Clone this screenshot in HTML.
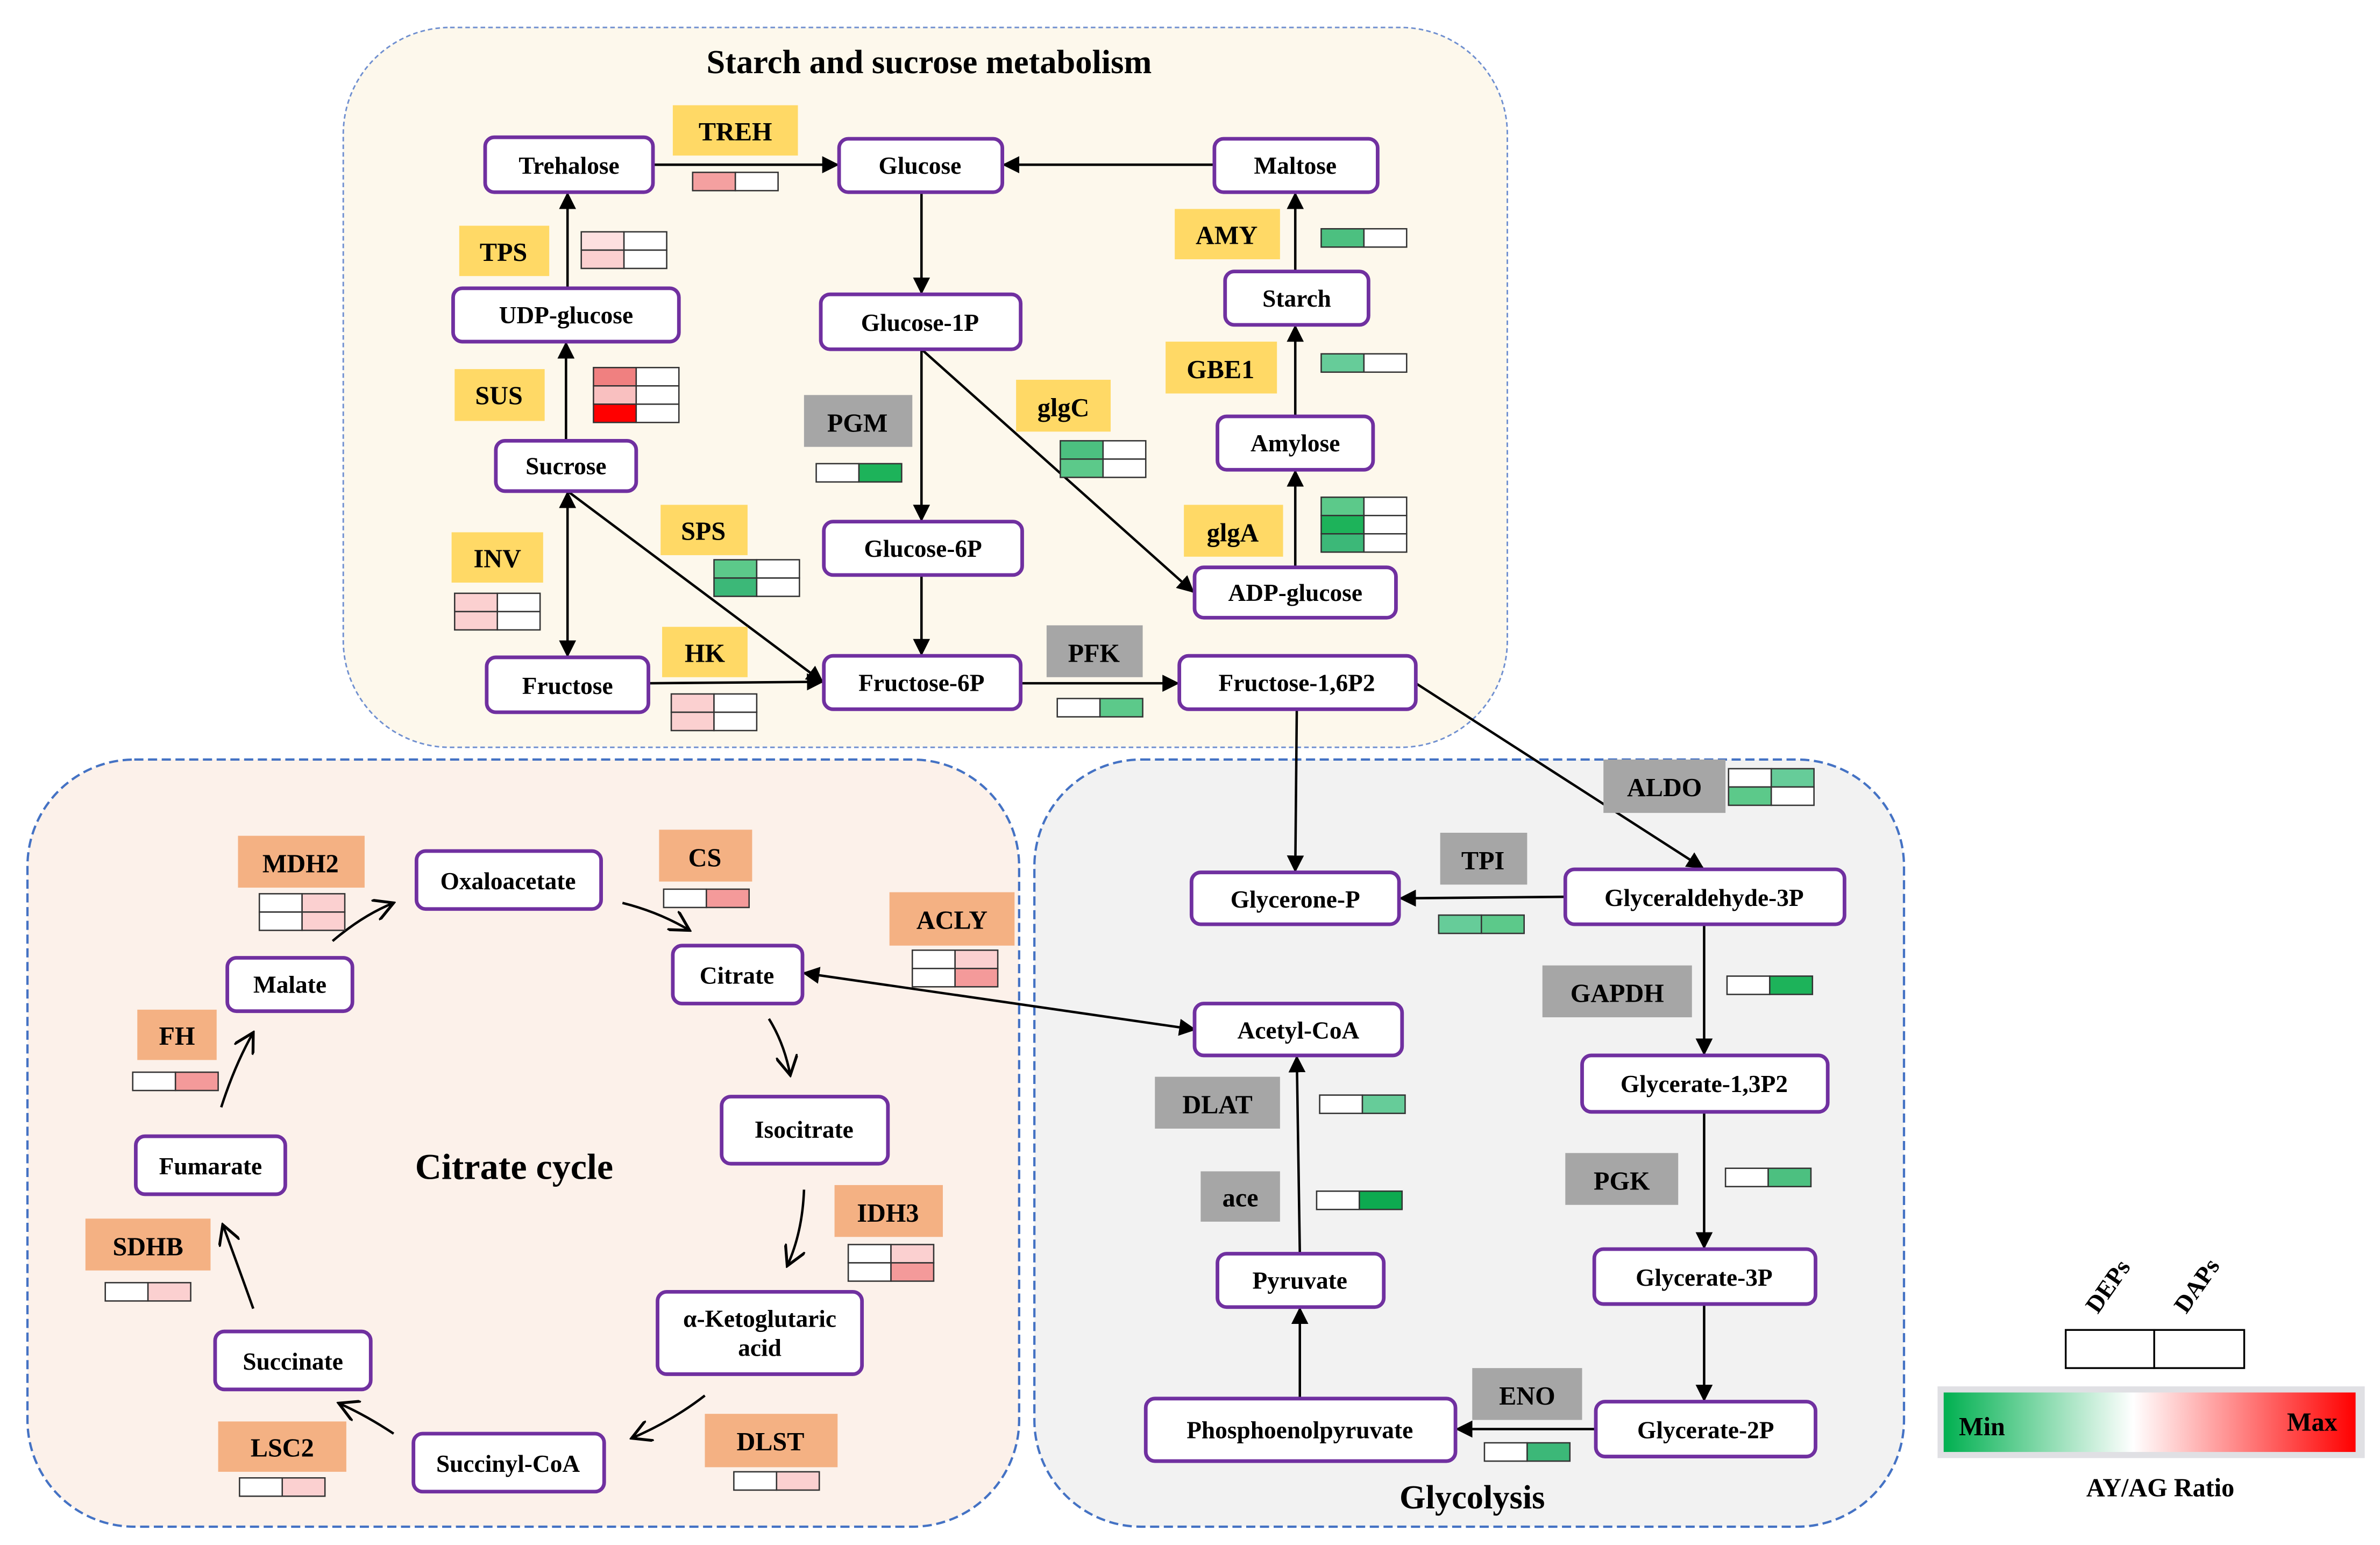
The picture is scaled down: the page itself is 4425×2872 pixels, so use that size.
<!DOCTYPE html>
<html><head><meta charset="utf-8"><style>
html,body{margin:0;padding:0;background:#fff;}
svg{display:block;}
text{font-family:"Liberation Serif",serif;font-weight:bold;fill:#000;}
.n{fill:#fff;stroke:#7030a0;stroke-width:2.4;}
.y{fill:#ffd966;}.g{fill:#a6a6a6;}.o{fill:#f4b183;}
.c{stroke:#333;stroke-width:0.9;}
.a{stroke:#000;stroke-width:1.6;fill:none;}
</style></head><body>
<svg width="4425" height="2872" viewBox="0 0 1560 1013" preserveAspectRatio="none" xmlns="http://www.w3.org/2000/svg">
<defs>
<marker id="ar" viewBox="0 0 10 10" refX="9" refY="5" markerWidth="7" markerHeight="7" orient="auto-start-reverse"><path d="M0,0 L10,5 L0,10 z" fill="#000"/></marker>
<marker id="op" viewBox="0 0 10 10" refX="9" refY="5" markerWidth="9" markerHeight="9" orient="auto"><path d="M0,0 L9,5 L0,10" fill="none" stroke="#000" stroke-width="1.3"/></marker>
<linearGradient id="gr" x1="0" x2="1"><stop offset="0" stop-color="#00b050"/><stop offset="0.46" stop-color="#fff"/><stop offset="1" stop-color="#ff0000"/></linearGradient>
</defs>
<!-- regions -->
<rect x="225" y="18" width="763" height="472" rx="70" fill="#fdf8ec" stroke="#6f8fd0" stroke-width="1" stroke-dasharray="3,2"/>
<rect x="18" y="498" width="650" height="503" rx="70" fill="#fcf1ea" stroke="#4472c4" stroke-width="1.5" stroke-dasharray="6,3"/>
<rect x="678" y="498" width="570" height="503" rx="70" fill="#f2f2f2" stroke="#4472c4" stroke-width="1.5" stroke-dasharray="6,3"/>
<text x="609" y="48" font-size="22" text-anchor="middle">Starch and sucrose metabolism</text>
<text x="337" y="773" font-size="24" text-anchor="middle">Citrate cycle</text>
<text x="965" y="989" font-size="22" text-anchor="middle">Glycolysis</text>

<!-- arrows -->
<g class="a" marker-end="url(#ar)">
<line x1="428" y1="108" x2="549" y2="108"/>
<line x1="796" y1="108" x2="658" y2="108"/>
<line x1="604" y1="126" x2="604" y2="192"/>
<line x1="604" y1="229" x2="604" y2="341"/>
<line x1="604" y1="229" x2="782" y2="388"/>
<line x1="604" y1="377" x2="604" y2="429"/>
<line x1="372" y1="189" x2="372" y2="127"/>
<line x1="371" y1="289" x2="371" y2="225"/>
<line x1="372" y1="323" x2="372" y2="430" marker-start="url(#ar)"/>
<line x1="372" y1="322" x2="539" y2="447"/>
<line x1="425" y1="448" x2="539" y2="447"/>
<line x1="669" y1="448" x2="772" y2="448"/>
<line x1="849" y1="273" x2="849" y2="214"/>
<line x1="849" y1="178" x2="849" y2="127"/>
<line x1="849" y1="372" x2="849" y2="309"/>
<line x1="850" y1="465" x2="849" y2="571"/>
<line x1="928" y1="448" x2="1116" y2="569"/>
<line x1="1026" y1="588" x2="918" y2="589"/>
<line x1="1117" y1="606" x2="1117" y2="691"/>
<line x1="1117" y1="729" x2="1117" y2="818"/>
<line x1="1117" y1="855" x2="1117" y2="918"/>
<line x1="1046" y1="937" x2="955" y2="937"/>
<line x1="852" y1="917" x2="852" y2="858"/>
<line x1="852" y1="822" x2="850" y2="693"/>
<line x1="783" y1="675" x2="527" y2="638" marker-start="url(#ar)"/>
</g>
<g class="a" marker-end="url(#op)">
<path d="M218,617 Q238,600 258,592"/>
<path d="M408,592 Q432,598 452,610"/>
<path d="M504,668 Q514,684 518,705"/>
<path d="M527,780 Q526,808 516,830"/>
<path d="M462,915 Q440,932 414,943"/>
<path d="M258,940 Q240,928 222,920"/>
<path d="M166,858 Q156,830 146,803"/>
<path d="M145,726 Q154,698 166,677"/>
</g>

<!-- nodes -->
<g font-size="16" text-anchor="middle">
<rect class="n" x="318" y="90" width="110" height="36" rx="6"/><text x="373" y="114">Trehalose</text>
<rect class="n" x="550" y="91" width="107" height="35" rx="6"/><text x="603" y="114">Glucose</text>
<rect class="n" x="796" y="91" width="107" height="35" rx="6"/><text x="849" y="114">Maltose</text>
<rect class="n" x="297" y="189" width="148" height="35" rx="6"/><text x="371" y="212">UDP-glucose</text>
<rect class="n" x="538" y="193" width="131" height="36" rx="6"/><text x="603" y="217">Glucose-1P</text>
<rect class="n" x="803" y="178" width="94" height="35" rx="6"/><text x="850" y="201">Starch</text>
<rect class="n" x="798" y="273" width="102" height="35" rx="6"/><text x="849" y="296">Amylose</text>
<rect class="n" x="325" y="289" width="92" height="33" rx="6"/><text x="371" y="311">Sucrose</text>
<rect class="n" x="540" y="342" width="130" height="35" rx="6"/><text x="605" y="365">Glucose-6P</text>
<rect class="n" x="783" y="372" width="132" height="33" rx="6"/><text x="849" y="394">ADP-glucose</text>
<rect class="n" x="319" y="431" width="106" height="36" rx="6"/><text x="372" y="455">Fructose</text>
<rect class="n" x="540" y="430" width="129" height="35" rx="6"/><text x="604" y="453">Fructose-6P</text>
<rect class="n" x="773" y="430" width="155" height="35" rx="6"/><text x="850" y="453">Fructose-1,6P2</text>
<rect class="n" x="273" y="558" width="121" height="38" rx="6"/><text x="333" y="583">Oxaloacetate</text>
<rect class="n" x="441" y="620" width="85" height="38" rx="6"/><text x="483" y="645">Citrate</text>
<rect class="n" x="149" y="628" width="82" height="35" rx="6"/><text x="190" y="651">Malate</text>
<rect class="n" x="473" y="719" width="109" height="44" rx="6"/><text x="527" y="746">Isocitrate</text>
<rect class="n" x="89" y="745" width="98" height="38" rx="6"/><text x="138" y="770">Fumarate</text>
<rect class="n" x="431" y="847" width="134" height="54" rx="6"/><text x="498" y="870">α-Ketoglutaric</text><text x="498" y="889">acid</text>
<rect class="n" x="141" y="873" width="102" height="38" rx="6"/><text x="192" y="898">Succinate</text>
<rect class="n" x="271" y="940" width="125" height="38" rx="6"/><text x="333" y="965">Succinyl-CoA</text>
<rect class="n" x="781" y="572" width="136" height="34" rx="6"/><text x="849" y="595">Glycerone-P</text>
<rect class="n" x="1026" y="570" width="183" height="36" rx="6"/><text x="1117" y="594">Glyceraldehyde-3P</text>
<rect class="n" x="783" y="658" width="136" height="34" rx="6"/><text x="851" y="681">Acetyl-CoA</text>
<rect class="n" x="1037" y="692" width="161" height="37" rx="6"/><text x="1117" y="716">Glycerate-1,3P2</text>
<rect class="n" x="798" y="822" width="109" height="35" rx="6"/><text x="852" y="845">Pyruvate</text>
<rect class="n" x="1045" y="819" width="145" height="36" rx="6"/><text x="1117" y="843">Glycerate-3P</text>
<rect class="n" x="751" y="917" width="203" height="41" rx="6"/><text x="852" y="943">Phosphoenolpyruvate</text>
<rect class="n" x="1046" y="919" width="144" height="36" rx="6"/><text x="1118" y="943">Glycerate-2P</text>
</g>

<!-- enzyme labels -->
<g font-size="17" text-anchor="middle">
<rect class="y" x="441" y="69" width="82" height="33"/><text x="482" y="92">TREH</text>
<rect class="y" x="301" y="148" width="59" height="33"/><text x="330" y="171">TPS</text>
<rect class="y" x="298" y="242" width="59" height="34"/><text x="327" y="265">SUS</text>
<rect class="y" x="296" y="349" width="60" height="33"/><text x="326" y="372">INV</text>
<rect class="y" x="433" y="331" width="57" height="33"/><text x="461" y="354">SPS</text>
<rect class="y" x="434" y="411" width="56" height="33"/><text x="462" y="434">HK</text>
<rect class="g" x="527" y="259" width="71" height="34"/><text x="562" y="283">PGM</text>
<rect class="y" x="666" y="249" width="62" height="34"/><text x="697" y="273">glgC</text>
<rect class="g" x="686" y="410" width="63" height="34"/><text x="717" y="434">PFK</text>
<rect class="y" x="770" y="137" width="69" height="33"/><text x="804" y="160">AMY</text>
<rect class="y" x="764" y="224" width="73" height="34"/><text x="800" y="248">GBE1</text>
<rect class="y" x="776" y="331" width="65" height="34"/><text x="808" y="355">glgA</text>
<rect class="g" x="1051" y="498" width="80" height="35"/><text x="1091" y="522">ALDO</text>
<rect class="g" x="944" y="546" width="57" height="34"/><text x="972" y="570">TPI</text>
<rect class="g" x="1011" y="633" width="98" height="34"/><text x="1060" y="657">GAPDH</text>
<rect class="g" x="757" y="706" width="82" height="34"/><text x="798" y="730">DLAT</text>
<rect class="g" x="787" y="768" width="52" height="33"/><text x="813" y="791">ace</text>
<rect class="g" x="1026" y="756" width="74" height="34"/><text x="1063" y="780">PGK</text>
<rect class="g" x="965" y="897" width="72" height="34"/><text x="1001" y="921">ENO</text>
<rect class="o" x="156" y="548" width="83" height="34"/><text x="197" y="572">MDH2</text>
<rect class="o" x="432" y="544" width="61" height="34"/><text x="462" y="568">CS</text>
<rect class="o" x="583" y="585" width="82" height="35"/><text x="624" y="609">ACLY</text>
<rect class="o" x="90" y="662" width="52" height="33"/><text x="116" y="685">FH</text>
<rect class="o" x="56" y="799" width="82" height="34"/><text x="97" y="823">SDHB</text>
<rect class="o" x="547" y="777" width="71" height="34"/><text x="582" y="801">IDH3</text>
<rect class="o" x="143" y="932" width="84" height="33"/><text x="185" y="955">LSC2</text>
<rect class="o" x="462" y="927" width="87" height="35"/><text x="505" y="951">DLST</text>
</g>

<!-- heat cells -->
<g class="c">
<rect x="454" y="113" width="28" height="12" fill="#f4a0a0"/><rect x="482" y="113" width="28" height="12" fill="#fff"/>
<rect x="381" y="152" width="28" height="12" fill="#fde0e0"/><rect x="409" y="152" width="28" height="12" fill="#fff"/>
<rect x="381" y="164" width="28" height="12" fill="#fbd0d0"/><rect x="409" y="164" width="28" height="12" fill="#fff"/>
<rect x="389" y="241" width="28" height="12" fill="#f08080"/><rect x="417" y="241" width="28" height="12" fill="#fff"/>
<rect x="389" y="253" width="28" height="12" fill="#f9c0c0"/><rect x="417" y="253" width="28" height="12" fill="#fff"/>
<rect x="389" y="265" width="28" height="12" fill="#ff0000"/><rect x="417" y="265" width="28" height="12" fill="#fff"/>
<rect x="298" y="389" width="28" height="12" fill="#fbd0d0"/><rect x="326" y="389" width="28" height="12" fill="#fff"/>
<rect x="298" y="401" width="28" height="12" fill="#fbd0d0"/><rect x="326" y="401" width="28" height="12" fill="#fff"/>
<rect x="468" y="367" width="28" height="12" fill="#5cc98a"/><rect x="496" y="367" width="28" height="12" fill="#fff"/>
<rect x="468" y="379" width="28" height="12" fill="#3cb878"/><rect x="496" y="379" width="28" height="12" fill="#fff"/>
<rect x="440" y="455" width="28" height="12" fill="#fbd0d0"/><rect x="468" y="455" width="28" height="12" fill="#fff"/>
<rect x="440" y="467" width="28" height="12" fill="#fbd0d0"/><rect x="468" y="467" width="28" height="12" fill="#fff"/>
<rect x="535" y="304" width="28" height="12" fill="#fff"/><rect x="563" y="304" width="28" height="12" fill="#1db35a"/>
<rect x="695" y="289" width="28" height="12" fill="#4cc080"/><rect x="723" y="289" width="28" height="12" fill="#fff"/>
<rect x="695" y="301" width="28" height="12" fill="#5cc98a"/><rect x="723" y="301" width="28" height="12" fill="#fff"/>
<rect x="693" y="458" width="28" height="12" fill="#fff"/><rect x="721" y="458" width="28" height="12" fill="#5cc98a"/>
<rect x="866" y="150" width="28" height="12" fill="#4cc080"/><rect x="894" y="150" width="28" height="12" fill="#fff"/>
<rect x="866" y="232" width="28" height="12" fill="#66cc99"/><rect x="894" y="232" width="28" height="12" fill="#fff"/>
<rect x="866" y="326" width="28" height="12" fill="#5cc98a"/><rect x="894" y="326" width="28" height="12" fill="#fff"/>
<rect x="866" y="338" width="28" height="12" fill="#1db35a"/><rect x="894" y="338" width="28" height="12" fill="#fff"/>
<rect x="866" y="350" width="28" height="12" fill="#3cb878"/><rect x="894" y="350" width="28" height="12" fill="#fff"/>
<rect x="1133" y="504" width="28" height="12" fill="#fff"/><rect x="1161" y="504" width="28" height="12" fill="#66cc99"/>
<rect x="1133" y="516" width="28" height="12" fill="#5cc98a"/><rect x="1161" y="516" width="28" height="12" fill="#fff"/>
<rect x="943" y="600" width="28" height="12" fill="#66cc99"/><rect x="971" y="600" width="28" height="12" fill="#5cc98a"/>
<rect x="1132" y="640" width="28" height="12" fill="#fff"/><rect x="1160" y="640" width="28" height="12" fill="#1db35a"/>
<rect x="865" y="718" width="28" height="12" fill="#fff"/><rect x="893" y="718" width="28" height="12" fill="#66cc99"/>
<rect x="863" y="781" width="28" height="12" fill="#fff"/><rect x="891" y="781" width="28" height="12" fill="#0daa50"/>
<rect x="1131" y="766" width="28" height="12" fill="#fff"/><rect x="1159" y="766" width="28" height="12" fill="#4cc080"/>
<rect x="973" y="946" width="28" height="12" fill="#fff"/><rect x="1001" y="946" width="28" height="12" fill="#3cb878"/>
<rect x="170" y="586" width="28" height="12" fill="#fff"/><rect x="198" y="586" width="28" height="12" fill="#fbd0d0"/>
<rect x="170" y="598" width="28" height="12" fill="#fff"/><rect x="198" y="598" width="28" height="12" fill="#fbd0d0"/>
<rect x="435" y="583" width="28" height="12" fill="#fff"/><rect x="463" y="583" width="28" height="12" fill="#f49a9a"/>
<rect x="598" y="623" width="28" height="12" fill="#fff"/><rect x="626" y="623" width="28" height="12" fill="#fbd0d0"/>
<rect x="598" y="635" width="28" height="12" fill="#fff"/><rect x="626" y="635" width="28" height="12" fill="#f49a9a"/>
<rect x="87" y="703" width="28" height="12" fill="#fff"/><rect x="115" y="703" width="28" height="12" fill="#f49a9a"/>
<rect x="69" y="841" width="28" height="12" fill="#fff"/><rect x="97" y="841" width="28" height="12" fill="#fbd0d0"/>
<rect x="556" y="816" width="28" height="12" fill="#fff"/><rect x="584" y="816" width="28" height="12" fill="#fbd0d0"/>
<rect x="556" y="828" width="28" height="12" fill="#fff"/><rect x="584" y="828" width="28" height="12" fill="#f49a9a"/>
<rect x="157" y="969" width="28" height="12" fill="#fff"/><rect x="185" y="969" width="28" height="12" fill="#fbd0d0"/>
<rect x="481" y="965" width="28" height="12" fill="#fff"/><rect x="509" y="965" width="28" height="12" fill="#fbd0d0"/>
</g>

<!-- legend -->
<rect x="1354" y="872" width="58" height="25" fill="#fff" stroke="#000" stroke-width="1.2"/>
<rect x="1412" y="872" width="59" height="25" fill="#fff" stroke="#000" stroke-width="1.2"/>
<text font-size="16" transform="translate(1375,862) rotate(-55)">DEPs</text>
<text font-size="16" transform="translate(1433,862) rotate(-55)">DAPs</text>
<rect x="1270" y="909" width="280" height="47" fill="#e0e0e4"/>
<rect x="1274" y="913" width="270" height="39" fill="url(#gr)"/>
<text x="1284" y="941" font-size="17">Min</text>
<text x="1499" y="938" font-size="17">Max</text>
<text x="1416" y="981" font-size="17" text-anchor="middle">AY/AG Ratio</text>
</svg>
</body></html>
